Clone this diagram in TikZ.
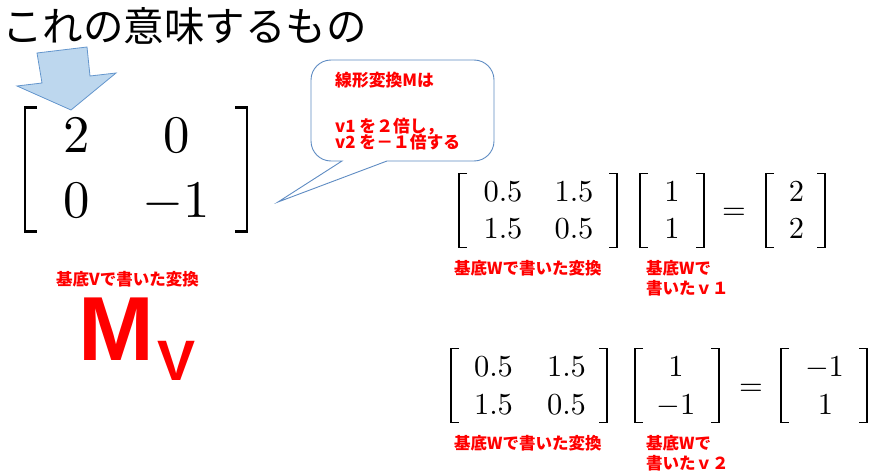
\documentclass[tikz,border=0pt]{standalone}
\usepackage{fontspec}
\usepackage{graphicx}
\newfontfamily\jp{Noto Sans CJK JP}
\newfontfamily\ars{Liberation Sans}
\definecolor{arrowfill}{RGB}{189,215,238}
\definecolor{arrowline}{RGB}{100,150,205}
\definecolor{bubbleline}{RGB}{95,140,195}
\newcommand{\SM}[1]{\scalebox{3.05}{$#1$}}
\newcommand{\BM}[1]{\scalebox{5.28}{$#1$}}
\newcommand{\LBr}[5]{\draw[line width=#5] (#1+#4,#2) -- (#1,#2) -- (#1,#3) -- (#1+#4,#3);}
\newcommand{\RBr}[5]{\draw[line width=#5] (#1-#4,#2) -- (#1,#2) -- (#1,#3) -- (#1-#4,#3);}
\begin{document}
\begin{tikzpicture}[x=1pt,y=-1pt,
  titlesty/.style={inner sep=0, anchor=base west, font=\jp\fontsize{40.5}{48}\selectfont},
  lbl/.style={inner sep=0, anchor=base west, text=red, font=\jp\bfseries\fontsize{16.5}{19}\selectfont},
  bub/.style={inner sep=0, anchor=base west, text=red, font=\jp\bfseries\fontsize{16.8}{16}\selectfont},
  ent/.style={inner sep=0, anchor=base},
  arrowsty/.style={fill=arrowfill, draw=arrowline, line width=0.8pt, line join=miter},
  bubblesty/.style={fill=white, draw=bubbleline, line width=0.9pt},
  bigred/.style={inner sep=0, anchor=base west, text=red}
]
\fill[white] (0,0) rectangle (875,476);
\useasboundingbox (0,0) rectangle (875,476);

% title
\node[titlesty] (title) at (2,41.5) {これの意味するもの};

% block arrow
\draw[arrowsty] (37,53) -- (87,47) -- (90,76) -- (116,73) -- (71,110) -- (17,86) -- (42,83) -- cycle;

% big matrix
\LBr{25}{107.5}{231.5}{12}{2.4pt}
\RBr{247}{107.5}{231.5}{12}{2.4pt}
\node[ent] (b11) at (77,152) {\BM{2}};
\node[ent] (b12) at (177,152) {\BM{0}};
\node[ent] (b21) at (77,217) {\BM{0}};
\node[ent] (b22) at (176,217) {\BM{-1}};

% callout
\draw[bubblesty] (331,60) -- (474,60) arc(90:0:20pt) -- (494,141) arc(0:-90:20pt)
  -- (387,161) -- (278,202) -- (342,161) -- (331,161) arc(270:180:20pt)
  -- (311,80) arc(180:90:20pt) -- cycle;
\node[bub] (c1) at (335,87) {線形変換Mは};
\node[bub] (c2) at (335,132.5) {v1 を２倍し，};
\node[bub] (c3) at (335,148) {v2 を－１倍する};

% M_V
\node[lbl] (lv) at (56,285) {基底Vで書いた変換};
\node[bigred, font=\ars\bfseries\fontsize{91}{91}\selectfont] (M) at (78,360) {M};
\node[bigred, font=\ars\bfseries\fontsize{57}{57}\selectfont] (Vs) at (157,380) {V};

% equation 1
\LBr{459}{173.7}{247.7}{8}{1.4pt}
\RBr{617}{173.7}{247.7}{8}{1.4pt}
\node[ent] (a11) at (503,201) {\SM{0.5}};
\node[ent] (a12) at (574,201) {\SM{1.5}};
\node[ent] (a21) at (503,238) {\SM{1.5}};
\node[ent] (a22) at (574,238) {\SM{0.5}};
\LBr{640}{173.7}{247.7}{8}{1.4pt}
\RBr{704}{173.7}{247.7}{8}{1.4pt}
\node[ent] (x1) at (672,201) {\SM{1}};
\node[ent] (x2) at (672,238) {\SM{1}};
\node[ent] (eq1) at (734,219.5) {\SM{=}};
\LBr{766}{173.7}{247.7}{8}{1.4pt}
\RBr{825}{173.7}{247.7}{8}{1.4pt}
\node[ent] (y1) at (796.5,201) {\SM{2}};
\node[ent] (y2) at (796.5,238) {\SM{2}};
\node[lbl] (l1) at (454,274) {基底Wで書いた変換};
\node[lbl] (l2) at (646,274) {基底Wで};
\node[lbl] (l3) at (646,294) {書いたｖ１};

% equation 2
\LBr{451}{348.7}{422.7}{8}{1.4pt}
\RBr{607}{348.7}{422.7}{8}{1.4pt}
\node[ent] (d11) at (493.5,376) {\SM{0.5}};
\node[ent] (d12) at (566.5,376) {\SM{1.5}};
\node[ent] (d21) at (493.5,414) {\SM{1.5}};
\node[ent] (d22) at (566.5,414) {\SM{0.5}};
\LBr{635}{348.7}{422.7}{8}{1.4pt}
\RBr{719}{348.7}{422.7}{8}{1.4pt}
\node[ent] (u1) at (676,376) {\SM{1}};
\node[ent] (u2) at (676,414) {\SM{-1}};
\node[ent] (eq2) at (751,395.5) {\SM{=}};
\LBr{781}{348.7}{422.7}{8}{1.4pt}
\RBr{867}{348.7}{422.7}{8}{1.4pt}
\node[ent] (w1) at (824.5,376) {\SM{-1}};
\node[ent] (w2) at (825.5,414) {\SM{1}};
\node[lbl] (k1) at (454,449) {基底Wで書いた変換};
\node[lbl] (k2) at (646,449) {基底Wで};
\node[lbl] (k3) at (646,469) {書いたｖ２};
\end{tikzpicture}
\end{document}
